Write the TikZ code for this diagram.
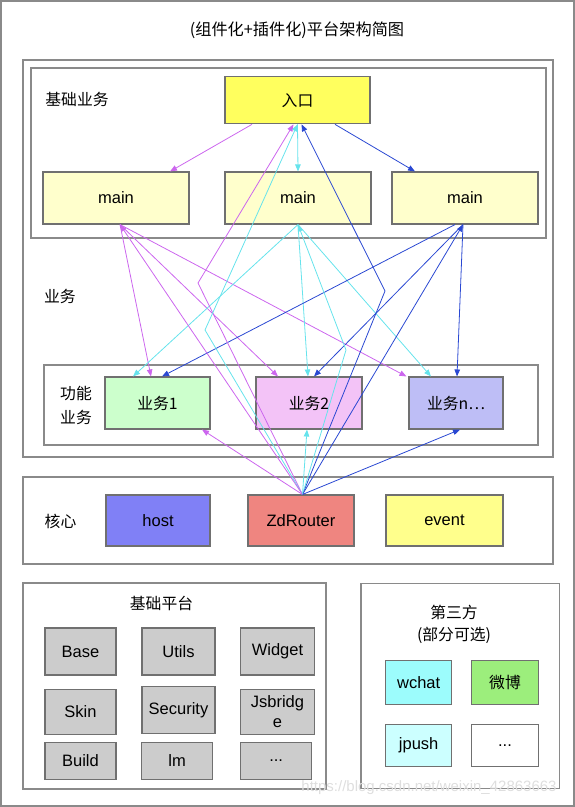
\documentclass[tikz,border=0pt]{standalone}
\usepackage{fontspec}
\setmainfont{Liberation Sans}
\newfontfamily\cjk{Noto Sans CJK SC}
\usetikzlibrary{arrows.meta,calc}
\definecolor{framegray}{HTML}{8A8A8A}
\definecolor{boxgray}{HTML}{707070}
\definecolor{linkmag}{HTML}{CC66EE}
\definecolor{linkcyan}{HTML}{66E3EC}
\definecolor{linkblue}{HTML}{2A48D2}
\definecolor{entryyellow}{HTML}{FFFF5E}
\definecolor{mainyellow}{HTML}{FFFFCC}
\definecolor{bizgreen}{HTML}{CCFFCC}
\definecolor{bizpink}{HTML}{F3C3F7}
\definecolor{bizviolet}{HTML}{BEBEF6}
\definecolor{hostblue}{HTML}{8080F6}
\definecolor{routerred}{HTML}{EF8580}
\definecolor{eventyellow}{HTML}{FFFF8C}
\definecolor{cellgray}{HTML}{CCCCCC}
\definecolor{wchatcyan}{HTML}{9CFCFC}
\definecolor{weibogreen}{HTML}{9CEE7C}
\definecolor{jpushcyan}{HTML}{CCFFFF}

\newcommand{\boxfont}{\fontsize{16.5}{19.5}\selectfont}
\newcommand{\tagfont}{\fontsize{15.8}{19}\selectfont}

\tikzset{
    group/.style={draw=framegray, line width=1.6pt, inner sep=0pt},
    cell/.style={draw=boxgray, line width=1.1pt, inner sep=0pt, font=\boxfont, align=center},
    tag/.style={font=\cjk\tagfont, inner sep=0pt, align=center},
    link/.style={line width=0.8pt, -{Triangle[length=7pt,width=5.5pt]}},
}

\begin{document}
\begin{tikzpicture}[x=1pt, y=-1pt]
    \useasboundingbox (0,0) rectangle (575,807);
    \node[group, line width=2pt, minimum width=573pt, minimum height=805pt] (frame) at (287.5,403.5) {};
    \node[tag, font=\cjk\fontsize{16.2}{19}\selectfont] (title) at (297,30) {(组件化+插件化)平台架构简图};

    \node[group, minimum width=530pt, minimum height=397pt] (bizarea) at (288,258.5) {};
    \node[group, minimum width=515pt, minimum height=170pt] (basebiz) at (288.5,153) {};
    \node[tag] (basebiztag) at (77,99) {基础业务};
    \node[cell, fill=entryyellow, font=\cjk\tagfont, minimum width=145pt, minimum height=47pt] (entry) at (297.5,100.3) {入口};
    \node[cell, fill=mainyellow, minimum width=146pt, minimum height=52pt] (main1) at (116,198) {main};
    \node[cell, fill=mainyellow, minimum width=146pt, minimum height=52pt] (main2) at (298,198) {main};
    \node[cell, fill=mainyellow, minimum width=146pt, minimum height=52pt] (main3) at (465,198) {main};

    \node[tag] (biztag) at (60,296) {业务};
    \node[group, minimum width=494pt, minimum height=80pt] (funcarea) at (291,405) {};
    \node[tag, font=\cjk\fontsize{15.8}{24}\selectfont] (functag) at (76,405) {功能\\业务};
    \node[cell, fill=bizgreen, font=\cjk\tagfont, minimum width=105pt, minimum height=52pt] (biz1) at (157.5,403) {业务1};
    \node[cell, fill=bizpink, font=\cjk\tagfont, minimum width=106pt, minimum height=52pt] (biz2) at (309,403) {业务2};
    \node[cell, fill=bizviolet, font=\cjk\tagfont, minimum width=94pt, minimum height=52pt] (bizn) at (456,403) {业务n…};

    \node[group, minimum width=530pt, minimum height=87pt] (corearea) at (288,520.5) {};
    \node[tag] (coretag) at (60.5,521) {核心};
    \node[cell, fill=hostblue, minimum width=104pt, minimum height=51pt] (host) at (158,520.5) {host};
    \node[cell, fill=routerred, minimum width=106pt, minimum height=51pt] (zd) at (301,520.5) {ZdRouter};
    \node[cell, fill=eventyellow, minimum width=117pt, minimum height=51pt] (event) at (444.5,520.5) {event};

    \node[group, minimum width=303pt, minimum height=206pt] (platform) at (174.5,686.2) {};
    \node[tag] (platformtag) at (161.5,603.5) {基础平台};
    \node[cell, fill=cellgray, minimum width=71pt, minimum height=47pt] (base) at (80.5,651.5) {Base};
    \node[cell, fill=cellgray, minimum width=73pt, minimum height=47pt] (utils) at (178.5,651.5) {Utils};
    \node[cell, fill=cellgray, minimum width=74pt, minimum height=47pt] (widget) at (277.5,651.5) {Widget};
    \node[cell, fill=cellgray, minimum width=71pt, minimum height=45pt] (skin) at (80.5,711.7) {Skin};
    \node[cell, fill=cellgray, minimum width=73pt, minimum height=47pt] (security) at (178.5,710.4) {Security};
    \node[cell, fill=cellgray, minimum width=74pt, minimum height=45pt] (jsbridge) at (277.5,711.7) {Jsbridg\\e};
    \node[cell, fill=cellgray, minimum width=71pt, minimum height=37pt] (build) at (80.5,760.7) {Build};
    \node[cell, fill=cellgray, minimum width=71pt, minimum height=37pt] (im) at (177.2,760.7) {lm};
    \node[cell, fill=cellgray, minimum width=71pt, minimum height=37pt] (etc) at (276.2,760.7) {...};

    \node[group, minimum width=198.6pt, minimum height=205pt] (third) at (460,685.8) {};
    \node[tag, font=\cjk\fontsize{15.8}{22.5}\selectfont] (thirdtag) at (454,624.5) {第三方\\(部分可选)};
    \node[cell, fill=wchatcyan, minimum width=66pt, minimum height=43.5pt] (wchat) at (418.7,682.4) {wchat};
    \node[cell, fill=weibogreen, font=\cjk\tagfont, minimum width=66.6pt, minimum height=43.5pt] (weibo) at (505,682.4) {微博};
    \node[cell, fill=jpushcyan, minimum width=66pt, minimum height=42.4pt] (jpush) at (418.7,745.5) {jpush};
    \node[cell, fill=white, minimum width=66.6pt, minimum height=42.4pt] (more) at (505,745.5) {...};

    \node[font=\fontsize{15}{18}\selectfont, text=black!13] (mark) at (429,788) {https://blog.csdn.net/weixin\_42863663};

    \coordinate (magbend) at (198,283);
    \coordinate (cyanbend) at (205,330);
    \coordinate (bluebend) at (385,291);
    \coordinate (cyanmid) at (346,350);

    \draw[link, linkmag] ([xshift=-45.5pt]entry.south) -- ([xshift=54pt]main1.north);
    \draw[link, linkcyan] (entry.south) -- (main2.north);
    \draw[link, linkblue] ([xshift=37.5pt]entry.south) -- ([xshift=-50pt]main3.north);

    \draw[link, linkmag] ([xshift=4pt]main1.south) -- ([xshift=-6.5pt]biz1.north);
    \draw[link, linkmag] ([xshift=4pt]main1.south) -- ([xshift=-31pt]biz2.north);
    \draw[link, linkmag] ([xshift=4pt]main1.south) -- ([xshift=-2pt]bizn.north west);
    \draw[link, linkcyan] (main2.south) -- ([xshift=-24.5pt]biz1.north);
    \draw[link, linkcyan] (main2.south) -- ([xshift=-1pt]biz2.north);
    \draw[link, linkcyan] (main2.south) -- ([xshift=-25pt]bizn.north);
    \draw[link, linkblue] ([xshift=-10pt]main3.south) -- ([xshift=4.5pt]biz1.north);
    \draw[link, linkblue] ([xshift=-2pt]main3.south) -- ([xshift=5pt]biz2.north);
    \draw[link, linkblue] ([xshift=-2pt]main3.south) -- ([xshift=1pt]bizn.north);

    \draw[link, linkmag] ([xshift=1.5pt]zd.north) -- (magbend) -- ([xshift=-4pt]entry.south);
    \draw[link, linkcyan] ([xshift=1.5pt]zd.north) -- (cyanbend) -- (entry.south);
    \draw[link, linkblue] ([xshift=1.5pt]zd.north) -- (bluebend) -- ([xshift=4pt]entry.south);
    \draw[link, linkmag] ([xshift=1.5pt]zd.north) -- ([xshift=4pt]main1.south);
    \draw[link, linkcyan] ([xshift=1.5pt]zd.north) -- (cyanmid) -- (main2.south);
    \draw[link, linkblue] ([xshift=1.5pt]zd.north) -- ([xshift=-2pt]main3.south);
    \draw[link, linkmag] ([xshift=1.5pt]zd.north) -- ([xshift=44.5pt]biz1.south);
    \draw[link, linkcyan] ([xshift=1.5pt]zd.north) -- ([xshift=-2pt]biz2.south);
    \draw[link, linkblue] ([xshift=1.5pt]zd.north) -- ([xshift=4pt]bizn.south);
\end{tikzpicture}
\end{document}
